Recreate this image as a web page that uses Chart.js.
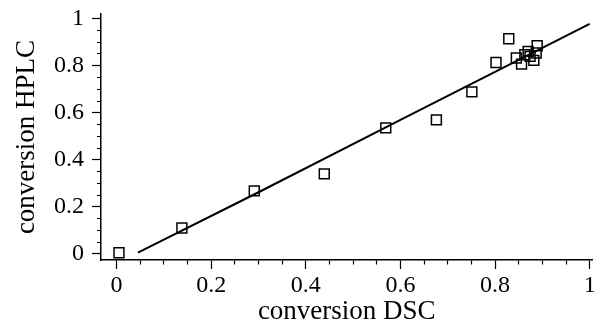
<!DOCTYPE html>
<html>
<head>
<meta charset="utf-8">
<script src="https://cdn.jsdelivr.net/npm/chart.js@4/dist/chart.umd.min.js"></script>
<style>
  html, body { margin: 0; padding: 0; background: #fff; overflow: hidden; }
  #wrap { position: relative; width: 601px; height: 326px; }
</style>
</head>
<body>
<div id="wrap"><canvas id="c"></canvas></div>
<script>
// measured points: conversion DSC (x) vs conversion HPLC (y)
const dscValues = [0.005, 0.138, 0.291, 0.439, 0.569, 0.676, 0.751, 0.802, 0.829, 0.845, 0.856, 0.863, 0.870, 0.874, 0.882, 0.887, 0.889];
const hplcValues = [0.005, 0.110, 0.268, 0.340, 0.536, 0.570, 0.689, 0.814, 0.915, 0.833, 0.807, 0.847, 0.861, 0.840, 0.823, 0.854, 0.885];

// fitted curve
const fitX = [0.045, 0.30, 0.60, 1.00];
const fitY = [0.005, 0.262, 0.570, 0.978];

const FONT = 'Liberation Serif, Times New Roman, serif';
const MAJOR_LEN = 9, MINOR_LEN = 4;

const isMajor = v => Math.abs(v * 5 - Math.round(v * 5)) < 1e-6;
const fmtTick = v => {
  if (!isMajor(v)) return '';
  const r = Math.round(v * 5) / 5;
  return (r === 0 || r === 1) ? String(r) : r.toFixed(1);
};

// minor ticks: only the part next to the axis line is drawn
function tickDash(horizontal) {
  return ctx => {
    if (!ctx.tick || isMajor(ctx.tick.value)) return [];
    return horizontal ? [MINOR_LEN, 100] : [0, MAJOR_LEN - MINOR_LEN, MINOR_LEN, 100];
  };
}

// tickFont lineHeight is used to place labels without extra edge padding
function axis(title, min, max, fitSize, horizontal, tickPad, tickLH, titlePad) {
  return {
    type: 'linear',
    min, max,
    afterFit: s => {
      if (horizontal) { s.height = fitSize; s.paddingRight = 0; }
      else { s.width = fitSize; s.paddingTop = 0; }
    },
    border: { color: '#000', width: 1.5 },
    grid: {
      drawOnChartArea: false, tickLength: MAJOR_LEN, tickColor: '#000', tickWidth: 1.2,
      tickBorderDash: tickDash(horizontal)
    },
    ticks: {
      stepSize: 0.05, includeBounds: false, autoSkip: false, maxRotation: 0,
      color: '#000', padding: tickPad,
      font: { family: FONT, size: 24, lineHeight: tickLH },
      callback: fmtTick
    },
    title: {
      display: true, text: title, color: '#000',
      font: { family: FONT, size: 27, lineHeight: 1 },
      padding: titlePad
    }
  };
}

new Chart(document.getElementById('c'), {
  type: 'scatter',
  data: {
    datasets: [
      {
        label: 'data',
        data: dscValues.map((x, i) => ({ x, y: hplcValues[i] })),
        pointStyle: 'rect',
        pointRadius: 7,
        borderColor: '#000',
        backgroundColor: 'rgba(0,0,0,0)',
        borderWidth: 1.5
      },
      {
        label: 'fit',
        data: fitX.map((x, i) => ({ x, y: fitY[i] })),
        showLine: true,
        pointRadius: 0,
        borderColor: '#000',
        borderWidth: 2
      }
    ]
  },
  options: {
    responsive: true,
    maintainAspectRatio: false,
    animation: false,
    layout: { padding: { top: 14, right: 2, left: 0, bottom: 0 } },
    plugins: { legend: { display: false }, tooltip: { enabled: false } },
    scales: {
      x: axis('conversion DSC', -0.033, 1.006, 66, true, 0, 1.42, { top: 0, bottom: 1 }),
      y: axis('conversion HPLC', -0.026, 1.02, 101, false, 8, 0.5, { top: 13, bottom: 0 })
    }
  }
});
</script>
</body>
</html>
